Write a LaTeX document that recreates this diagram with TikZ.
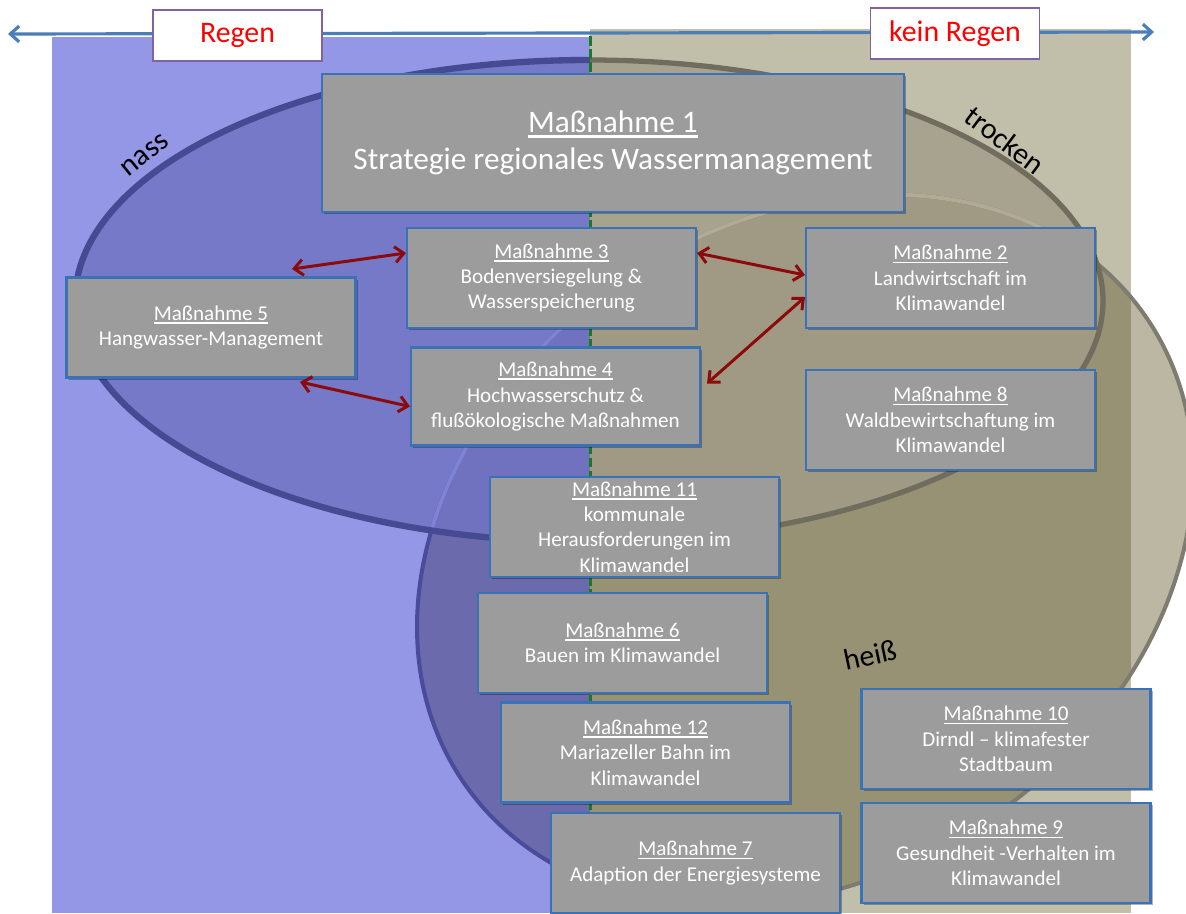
\documentclass[tikz,border=0pt]{standalone}
\usepackage{fontspec}
\setmainfont{Carlito}
\usetikzlibrary{arrows.meta,shadows,calc}
\definecolor{bluebg}{HTML}{9397E5}
\definecolor{cBone}{HTML}{7678C8}
\definecolor{cBtwo}{HTML}{6A6AAD}
\definecolor{cBboth}{HTML}{7072BF}
\definecolor{tanbg}{HTML}{C1BEA9}
\definecolor{cTone}{HTML}{A8A38F}
\definecolor{cTtwo}{HTML}{989274}
\definecolor{cTboth}{HTML}{A09A84}
\definecolor{cWtwo}{HTML}{BBB7A2}
\definecolor{eOneB}{HTML}{464A92}
\definecolor{eOneT}{HTML}{706D5E}
\definecolor{eTwoB}{HTML}{4A4C9A}
\definecolor{eTwoBl}{HTML}{8082D4}
\definecolor{eTwoT}{HTML}{7E7C70}
\definecolor{eTwoTl}{HTML}{B0AB97}
\definecolor{boxfill}{HTML}{9C9C9C}
\definecolor{boxline}{HTML}{3A72B8}
\definecolor{axiscol}{HTML}{4A7EBB}
\definecolor{lblline}{HTML}{8064A2}
\definecolor{redarr}{HTML}{8B0A0C}
\definecolor{greenl}{HTML}{1A7A22}
\newcommand\ulm[1]{\leavevmode\setbox0\hbox{#1}\rlap{\rule[-0.17em]{\wd0}{0.085em}}\box0}
\begin{document}
\begin{tikzpicture}[x=0.02cm,y=-0.02cm,
  mbox/.style={draw=boxline, line width=1.2pt, fill=boxfill, text=white, align=center, inner sep=0pt,
     minimum width=5.78cm, minimum height=2cm, font=\fontsize{12}{14.5}\selectfont,
     drop shadow={shadow xshift=1.2pt, shadow yshift=-1.4pt, opacity=0.3, fill=black}},
  lbl/.style={draw=lblline, line width=1pt, fill=white, text=red, minimum width=3.38cm,
     minimum height=1.02cm, inner sep=0pt, font=\fontsize{17}{20}\selectfont},
  zone/.style={font=\fontsize{17}{20}\selectfont, text=black, inner sep=0pt},
  rarr/.style={draw=redarr, line width=1.7pt, {Straight Barb[length=5pt,width=9pt]}-{Straight Barb[length=5pt,width=9pt]}},
  axarr/.style={draw=axiscol, line width=1.8pt, {Straight Barb[length=5pt,width=9pt]}-{Straight Barb[length=5pt,width=9pt]}},
  eone/.style={insert path={(589,301) ellipse [x radius=514, y radius=241]}},
  etwo/.style={rotate around={34:(805,550)}, insert path={(805,550) ellipse [x radius=413, y radius=326]}}
]
\useasboundingbox (0,0) rectangle (1186,913);
\clip (0,0) rectangle (1186,913);
% backgrounds
\fill[bluebg] (52,37) rectangle (590,913);
\fill[tanbg] (590,29) rectangle (1131,913);
% blue half regions
\begin{scope}
  \clip (52,37) rectangle (590,913);
  \fill[cBone, eone];
  \fill[cBtwo, etwo];
  \clip[eone];
  \fill[cBboth, etwo];
\end{scope}
% tan half regions
\begin{scope}
  \clip (590,29) rectangle (1131,913);
  \fill[cTone, eone];
  \fill[cTtwo, etwo];
  \clip[eone];
  \fill[cTboth, etwo];
\end{scope}
\begin{scope}
  \clip (1131,0) rectangle (1186,913);
  \fill[cWtwo, etwo];
\end{scope}
% borders of ellipse 2
\begin{scope}
  \clip (0,0) rectangle (590,913);
  \draw[eTwoB, line width=2.3pt, etwo];
  \clip[eone];
  \draw[eTwoBl, line width=2.3pt, etwo];
\end{scope}
\begin{scope}
  \clip (590,0) rectangle (1186,913);
  \draw[eTwoT, line width=2.3pt, etwo];
  \clip[eone];
  \draw[eTwoTl, line width=2.3pt, etwo];
\end{scope}
% borders of ellipse 1
\begin{scope}
  \clip (0,0) rectangle (590,913);
  \draw[eOneB, line width=3.6pt, eone];
\end{scope}
\begin{scope}
  \clip (590,0) rectangle (1186,913);
  \draw[eOneT, line width=3pt, eone];
\end{scope}
% green divider
\coordinate (gT) at (590,36);
\coordinate (gB) at (590,913);
\draw[greenl, line width=1.7pt, dash pattern=on 5.5pt off 2pt] (gT) -- (gB);
% axis
\coordinate (axL) at (8,34);
\coordinate (axR) at (1154,32);
\draw[axarr] (axL) -- (axR);
\node[lbl] (regen) at (237.5,35.5) {Regen};
\node[lbl] (kein) at (955,33.5) {kein Regen};
% zone labels
\node[zone, rotate=39] (nass) at (145,155) {nass};
\node[zone, rotate=-37] (trocken) at (1005,140) {trocken};
\node[zone, rotate=12] (heiss) at (870,655) {heiß};
% boxes
\node[mbox, minimum width=11.64cm, minimum height=2.76cm, font=\fontsize{17.8}{21}\selectfont] (m1) at (613,143)
  {\ulm{Maßnahme 1}\\Strategie regionales Wassermanagement};
\node[mbox] (m3) at (551.5,278) {\ulm{Maßnahme 3}\\Bodenversiegelung \&\\Wasserspeicherung};
\node[mbox] (m2) at (950.5,278) {\ulm{Maßnahme 2}\\Landwirtschaft im\\Klimawandel};
\node[mbox] (m5) at (211,327.5) {\ulm{Maßnahme 5}\\Hangwasser-Management};
\node[mbox, minimum height=1.96cm] (m4) at (555.5,396.5) {\ulm{Maßnahme 4}\\Hochwasserschutz \&\\flußökologische Maßnahmen};
\node[mbox] (m8) at (950.5,420) {\ulm{Maßnahme 8}\\Waldbewirtschaftung im\\Klimawandel};
\node[mbox] (m11) at (634.5,527) {\ulm{Maßnahme 11}\\kommunale\\Herausforderungen im\\Klimawandel};
\node[mbox] (m6) at (622.5,643) {\ulm{Maßnahme 6}\\Bauen im Klimawandel};
\node[mbox] (m12) at (645.5,752.5) {\ulm{Maßnahme 12}\\Mariazeller Bahn im\\Klimawandel};
\node[mbox] (m10) at (1006,739) {\ulm{Maßnahme 10}\\Dirndl – klimafester\\Stadtbaum};
\node[mbox] (m7) at (695.5,863) {\ulm{Maßnahme 7}\\Adaption der Energiesysteme};
\node[mbox] (m9) at (1006,853) {\ulm{Maßnahme 9}\\Gesundheit -Verhalten im\\Klimawandel};
% red connectors
\coordinate (a1) at (292,269);
\coordinate (a4) at (300,382);
\draw[rarr] (a1) -- ($(m3.west)+(0,-25)$);
\draw[rarr] ($(m3.east)+(0,-25)$) -- ($(m2.west)+(0,-3)$);
\draw[rarr] ($(m2.west)+(0,19)$) -- ($(m4.east)+(6,-13)$);
\draw[rarr] (a4) -- ($(m4.west)+(0,10)$);
\end{tikzpicture}
\end{document}
